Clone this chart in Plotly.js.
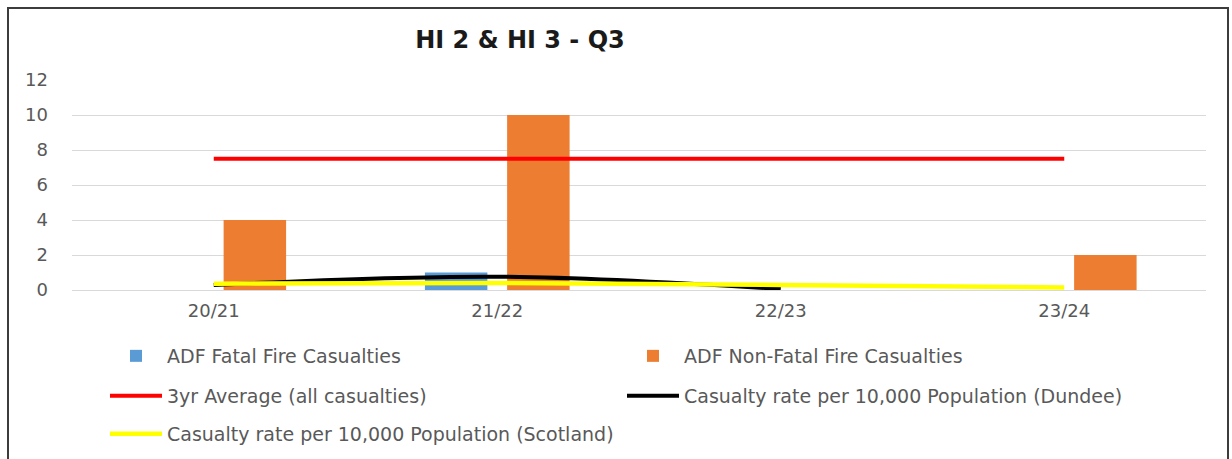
<!DOCTYPE html>
<html>
<head>
<meta charset="utf-8">
<script src="https://cdn.plot.ly/plotly-3.0.1.min.js"></script>
<style>
  html, body { margin: 0; padding: 0; background: #ffffff; overflow: hidden; }
  #frame { position: absolute; left: 7px; top: 7px; width: 1218px; height: 460px;
           border: 2px solid #3c3c3c; border-bottom: none; background: #fff; }
  #chart { width: 1218px; height: 450px; }
</style>
</head>
<body>
<div id="frame"><div id="chart"></div></div>
<script>
const categories = ['20/21', '21/22', '22/23', '23/24'];
const fatal = [0, 1, 0, 0];
const nonFatal = [4, 10, 0, 2];
const avg3yr = [7.5, 7.5, 7.5, 7.5];
const dundee = [0.29, 0.76, 0.06, null];
const scotland = [0.36, 0.40, 0.29, 0.14];

const names = [
  'ADF Fatal Fire Casualties',
  'ADF Non-Fatal Fire Casualties',
  '3yr Average (all casualties)',
  'Casualty rate per 10,000 Population (Dundee)',
  'Casualty rate per 10,000 Population (Scotland)'
];

const W = 1218, H = 450;
const tickFont = { family: 'DejaVu Sans', size: 18, color: '#595959' };
const legendFont = { family: 'DejaVu Sans', size: 19, color: '#595959' };

const traces = [
  { type: 'bar', x: categories, y: fatal, name: names[0], marker: { color: '#5B9BD5' }, legend: 'legend' },
  { type: 'bar', x: categories, y: nonFatal, name: names[1], marker: { color: '#ED7D31' }, legend: 'legend2' },
  { type: 'scatter', mode: 'lines', x: categories, y: avg3yr, name: names[2],
    line: { color: '#FF0000', width: 4 }, legend: 'legend3' },
  { type: 'scatter', mode: 'lines', x: categories, y: dundee, name: names[3],
    line: { color: '#000000', width: 4, shape: 'spline', smoothing: 1 }, legend: 'legend4' },
  { type: 'scatter', mode: 'lines', x: categories, y: scotland, name: names[4],
    line: { color: '#FFFF00', width: 4.5, shape: 'spline', smoothing: 1 }, legend: 'legend5' }
];

function leg(px, py) {
  return {
    xref: 'container', yref: 'container',
    x: px / W, y: 1 - py / H, xanchor: 'left', yanchor: 'middle',
    orientation: 'h', font: legendFont, itemwidth: 52,
    bgcolor: 'rgba(0,0,0,0)', borderwidth: 0
  };
}

const layout = {
  width: W, height: H,
  margin: { l: 63, r: 21, t: 71, b: 169 },
  paper_bgcolor: '#ffffff', plot_bgcolor: '#ffffff',
  title: { text: 'HI 2 & HI 3 - Q3', font: { family: 'DejaVu Sans', size: 24, color: '#1a1a1a', weight: 'bold' },
           xref: 'container', yref: 'container', x: 511 / W, xanchor: 'center', y: 1 - 31 / H, yanchor: 'middle' },
  barmode: 'group', bargap: 0.42, bargroupgap: 0.24,
  hovermode: false,
  showlegend: true,
  xaxis: { type: 'category', showgrid: false, zeroline: false, showline: false, ticks: '',
           tickfont: tickFont, ticklabelstandoff: 8 },
  yaxis: { range: [0, 12], dtick: 2, showgrid: true, gridcolor: '#d9d9d9', gridwidth: 1,
           zeroline: true, zerolinecolor: '#d9d9d9', zerolinewidth: 1, showline: false, ticks: '',
           tickfont: tickFont, ticklabelstandoff: 23 },
  legend: leg(96, 347),
  legend2: leg(613, 347),
  legend3: leg(96, 387),
  legend4: leg(613, 387),
  legend5: leg(96, 425)
};

Plotly.newPlot('chart', traces, layout, { displayModeBar: false, staticPlot: true });
</script>
</body>
</html>
